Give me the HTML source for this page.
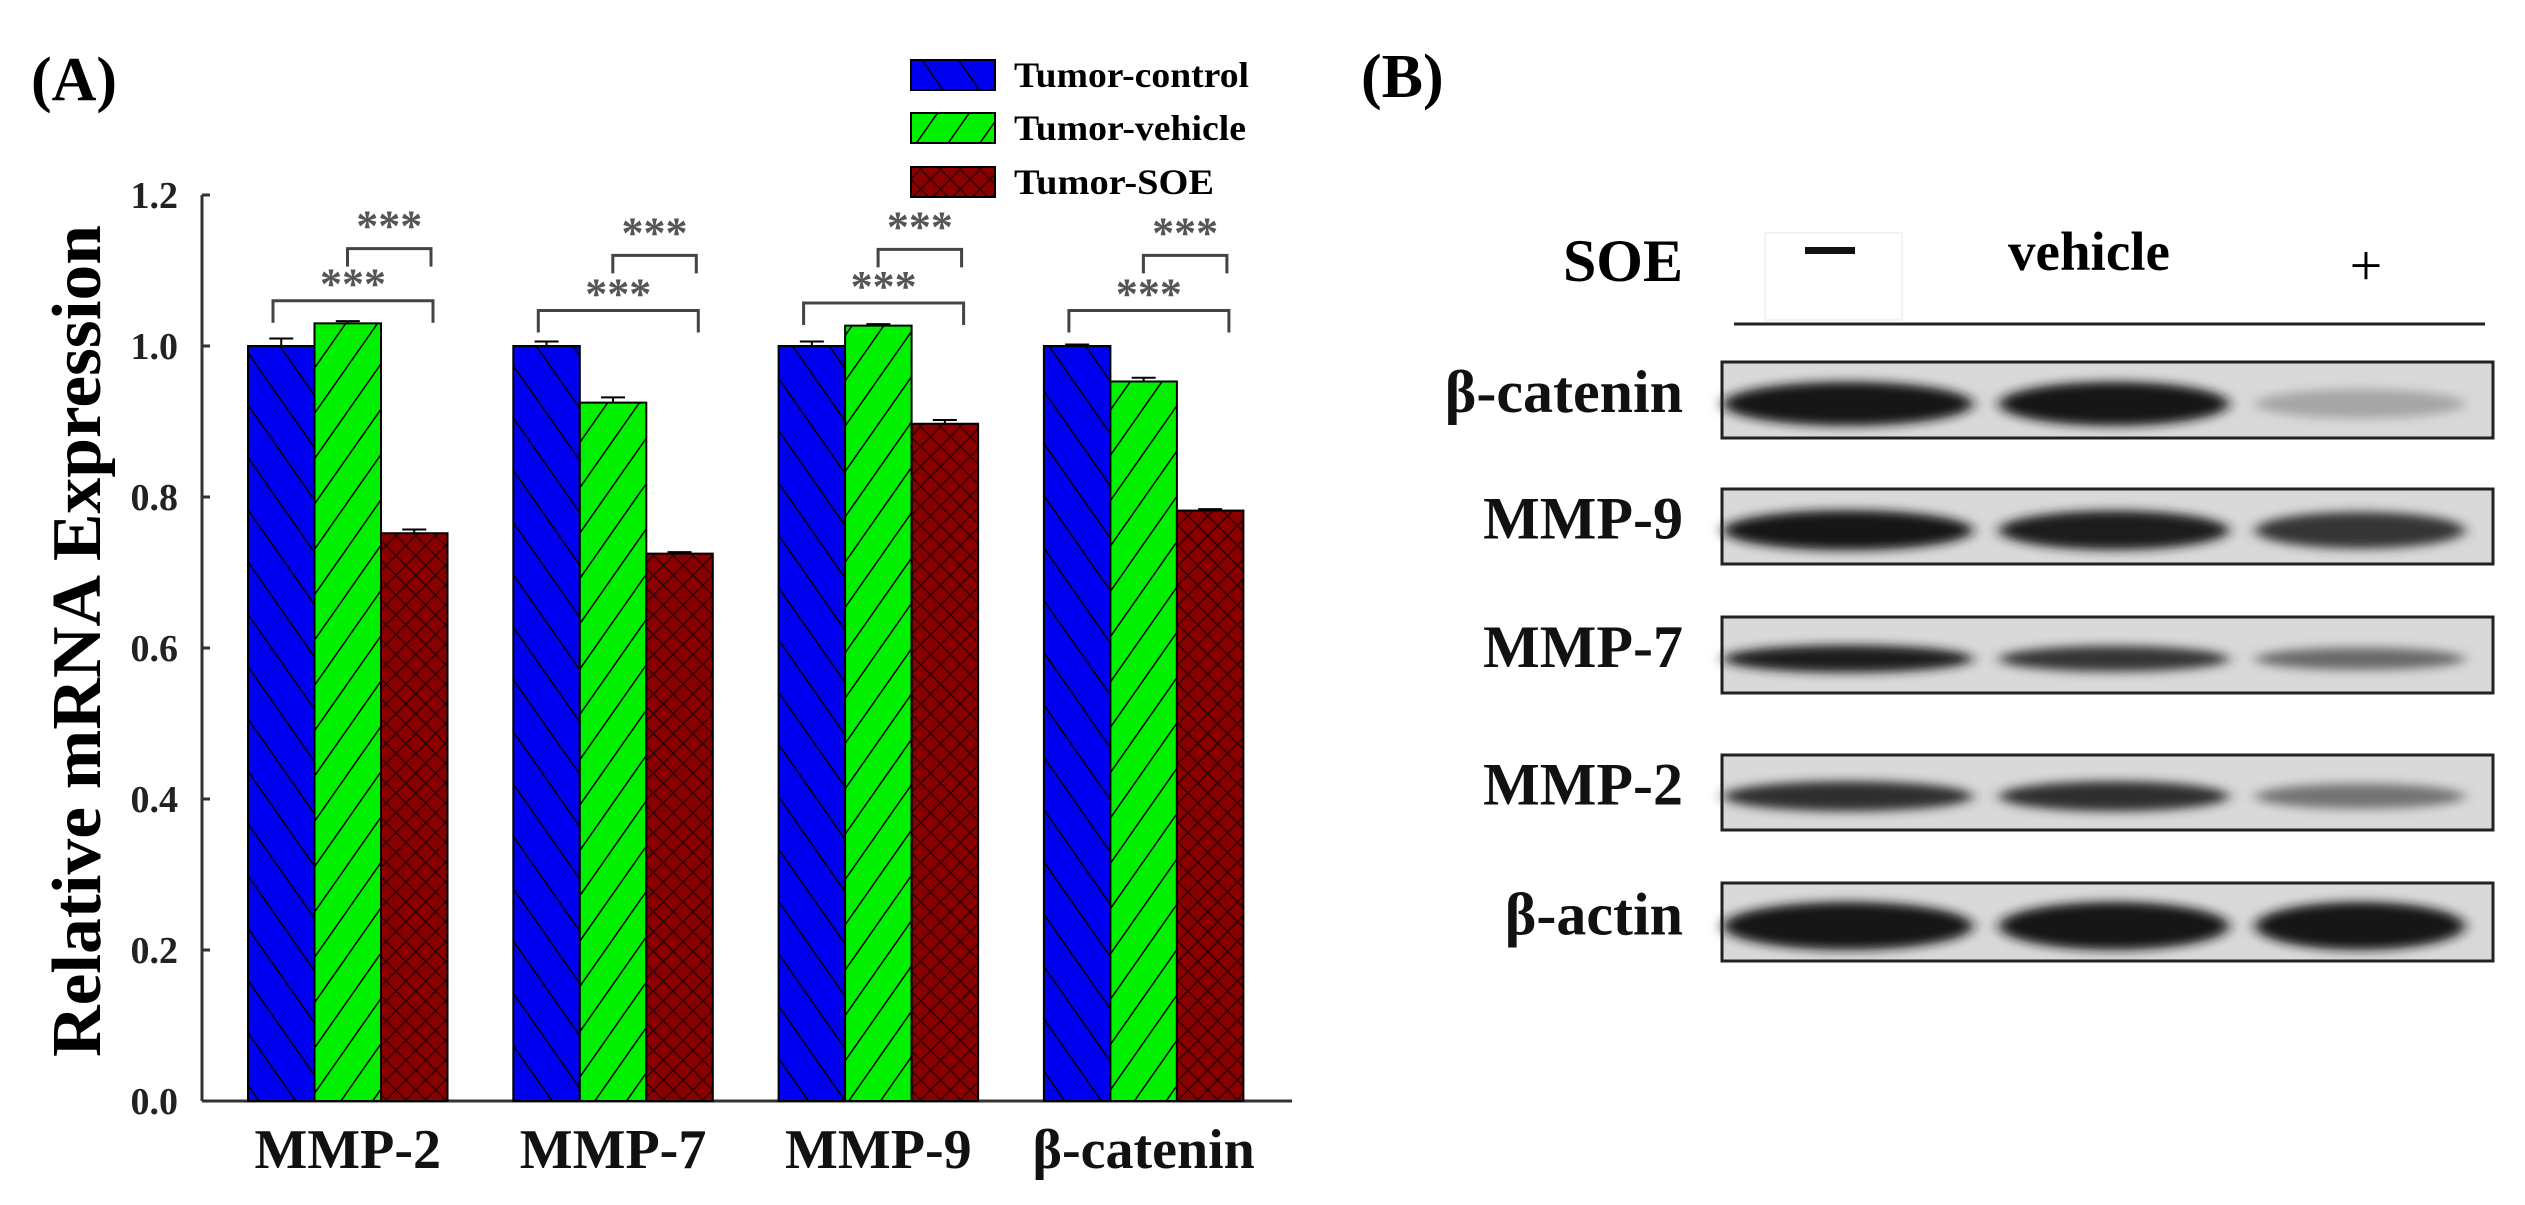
<!DOCTYPE html>
<html><head><meta charset="utf-8"><style>
html,body{margin:0;padding:0;background:#fff}
svg{display:block}
text{font-family:"Liberation Serif",serif;font-weight:bold}
</style></head><body>
<svg id="fig" width="2525" height="1205" viewBox="0 0 2525 1205" xmlns="http://www.w3.org/2000/svg">
<defs>
<pattern id="pBlue" patternUnits="userSpaceOnUse" width="30" height="30" patternTransform="rotate(-35)">
<rect width="30" height="30" fill="#0000f0"/><line x1="0" y1="0" x2="0" y2="30" stroke="#000" stroke-width="3"/></pattern>
<pattern id="pGreen" patternUnits="userSpaceOnUse" width="26" height="26" patternTransform="rotate(35)">
<rect width="26" height="26" fill="#00f000"/><line x1="0" y1="0" x2="0" y2="26" stroke="#000" stroke-width="3"/></pattern>
<pattern id="pRed" patternUnits="userSpaceOnUse" width="14" height="14" patternTransform="rotate(45)">
<rect width="14" height="14" fill="#8a0000"/><line x1="0" y1="0" x2="0" y2="14" stroke="#300" stroke-width="3"/><line x1="0" y1="0" x2="14" y2="0" stroke="#300" stroke-width="3"/></pattern>
<filter id="blur" x="-20%" y="-100%" width="140%" height="300%"><feGaussianBlur stdDeviation="7 5"/></filter>
</defs>

<text x="31" y="100" font-size="62">(A)</text>
<text x="1361" y="97" font-size="62">(B)</text>

<g id="legend">
<rect x="911" y="60" width="84" height="30" fill="url(#pBlue)" stroke="#000" stroke-width="2"/>
<text x="1014" y="87" font-size="36" textLength="235" lengthAdjust="spacingAndGlyphs">Tumor-control</text>
<rect x="911" y="113" width="84" height="30" fill="url(#pGreen)" stroke="#000" stroke-width="2"/>
<text x="1014" y="140" font-size="36" textLength="232" lengthAdjust="spacingAndGlyphs">Tumor-vehicle</text>
<rect x="911" y="167" width="84" height="30" fill="url(#pRed)" stroke="#000" stroke-width="2"/>
<text x="1014" y="194" font-size="36" textLength="200" lengthAdjust="spacingAndGlyphs">Tumor-SOE</text>
</g>

<text transform="translate(100,641) rotate(-90)" text-anchor="middle" font-size="70" textLength="832" lengthAdjust="spacingAndGlyphs">Relative mRNA Expression</text>

<g id="chart"></g>
<g id="blot"></g>
</svg>
<script>
var categories = ["MMP-2","MMP-7","MMP-9","β-catenin"];
var controlVals = [1.0, 1.0, 1.0, 1.0];
var vehicleVals = [1.03, 0.925, 1.027, 0.953];
var soeVals = [0.752, 0.725, 0.897, 0.782];
var controlErr = [0.01, 0.006, 0.006, 0.002];
var vehicleErr = [0.003, 0.007, 0.002, 0.005];
var soeErr = [0.005, 0.002, 0.005, 0.002];
var yTicks = [0.0, 0.2, 0.4, 0.6, 0.8, 1.0, 1.2];
var yTickLabels = ["0.0","0.2","0.4","0.6","0.8","1.0","1.2"];
var bracketLow = [1.06, 1.047, 1.057, 1.047];
var bracketHigh = [1.129, 1.12, 1.128, 1.12];
var sigLabels = ["***","***","***","***"];

var NS = "http://www.w3.org/2000/svg";
var chart = document.getElementById("chart");
var Y0 = 1101, YPER = 755;
function yScale(v){ return Y0 - v*YPER; }
var groupStart = 248, groupStep = 265.3, barW = 66.5;
function xBar(g, s){ return groupStart + g*groupStep + s*barW; }
function mk(tag, attrs, parent){
  var e = document.createElementNS(NS, tag);
  for (var k in attrs) e.setAttribute(k, attrs[k]);
  (parent||chart).appendChild(e); return e;
}
var ax = mk("line",{x1:202,y1:yScale(1.2),x2:202,y2:Y0,stroke:"#333","stroke-width":3});


var xax = mk("line",{x1:202,y1:Y0,x2:1292,y2:Y0,stroke:"#333","stroke-width":3});


yTicks.forEach(function(t,i){
  var tk = mk("line",{x1:202,y1:yScale(t),x2:210,y2:yScale(t),stroke:"#333","stroke-width":3});
  
  
  var tl = mk("text",{x:178,y:yScale(t)+13,"text-anchor":"end","font-size":38,fill:"#222"});
  tl.textContent = yTickLabels[i];
  
  
});
var series = [[controlVals,controlErr,"url(#pBlue)","control"],[vehicleVals,vehicleErr,"url(#pGreen)","vehicle"],[soeVals,soeErr,"url(#pRed)","soe"]];
categories.forEach(function(c,g){
  series.forEach(function(s,si){
    var v = s[0][g], x = xBar(g,si), y = yScale(v);
    var r = mk("rect",{x:x,y:y,width:barW,height:Y0-y,fill:s[2],stroke:"#000","stroke-width":2});
    
    
    var e = s[1][g], cx = x+barW/2;
    var eb = mk("path",{d:"M"+cx+" "+y+"V"+yScale(v+e)+"M"+(cx-12)+" "+yScale(v+e)+"H"+(cx+12),stroke:"#000","stroke-width":2,fill:"none"});
    
    
  });
  var lx1 = xBar(g,0)+25, lx2 = xBar(g,2)+52, yl = yScale(bracketLow[g]);
  var b1 = mk("path",{d:"M"+lx1+" "+(yl+22)+"V"+yl+"H"+lx2+"V"+(yl+22),stroke:"#444","stroke-width":3,fill:"none"});
  
  
  var s1 = mk("text",{x:(lx1+lx2)/2,y:yl-2,"text-anchor":"middle","font-size":44,fill:"#555"});
  s1.textContent = sigLabels[g];
  
  
  var ux1 = xBar(g,1)+33, ux2 = xBar(g,2)+50, yu = yScale(bracketHigh[g]);
  var b2 = mk("path",{d:"M"+ux1+" "+(yu+18)+"V"+yu+"H"+ux2+"V"+(yu+18),stroke:"#444","stroke-width":3,fill:"none"});
  
  
  var s2 = mk("text",{x:(ux1+ux2)/2,y:yu-8,"text-anchor":"middle","font-size":44,fill:"#555"});
  s2.textContent = sigLabels[g];
  
  
  var lbl = mk("text",{x:xBar(g,1)+barW/2,y:1168,"text-anchor":"middle","font-size":56,fill:"#111"});
  lbl.textContent = c;
  
  
});

var blot = document.getElementById("blot");
var blotLabels = ["β-catenin","MMP-9","MMP-7","MMP-2","β-actin"];
var boxTops = [362, 489, 617, 755, 883];
var boxH = [76, 75, 76, 75, 78];
var bandStrength = [[1.0,1.0,0.15],[1.0,0.95,0.8],[0.95,0.8,0.5],[0.85,0.85,0.45],[1.0,1.0,1.0]];
var bandThick = [22, 20, 14, 16, 24];
var laneX = [1848, 2114, 2360];
var laneW = [125, 115, 105];
function mb(tag, attrs){ return mk(tag, attrs, blot); }
var soe = mb("text",{x:1683,y:281,"text-anchor":"end","font-size":60});
soe.textContent = "SOE";


var fb = mb("rect",{x:1765,y:233,width:137,height:87,fill:"none",stroke:"#f2f2f2","stroke-width":2});


var mn = mb("rect",{x:1805,y:247,width:50,height:7,fill:"#111"});


var vh = mb("text",{x:2089,y:270,"text-anchor":"middle","font-size":55});
vh.textContent = "vehicle";


var pl = mb("text",{x:2366,y:285,"text-anchor":"middle","font-size":58,style:"font-weight:normal"});
pl.textContent = "+";


var hl = mb("line",{x1:1734,y1:324,x2:2485,y2:324,stroke:"#222","stroke-width":3});


blotLabels.forEach(function(l,i){
  var t = boxTops[i], h = boxH[i];
  var box = mb("rect",{x:1722,y:t,width:771,height:h,fill:"#d9d9d9",stroke:"#222","stroke-width":3});
  
  
  laneX.forEach(function(cx,j){
    var s = bandStrength[i][j];
    var c = Math.round(20 + (1-s)*170);
    var band = mb("ellipse",{cx:cx,cy:t+h*0.55,rx:laneW[j],ry:bandThick[i]*(0.6+0.4*s),fill:"rgb("+c+","+c+","+c+")",filter:"url(#blur)"});
    
    
  });
  var lt = mb("text",{x:1683,y:t+h*0.66,"text-anchor":"end","font-size":60,fill:"#111"});
  lt.textContent = l;
  
  
});
</script>
</body></html>
